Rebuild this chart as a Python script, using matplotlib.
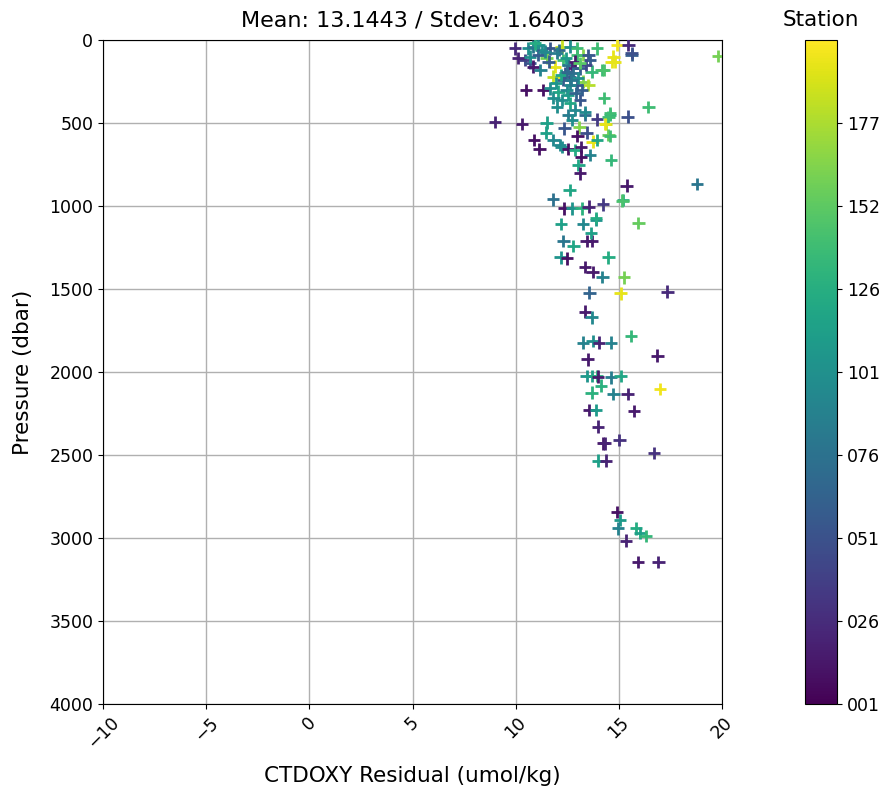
import matplotlib
matplotlib.use("Agg")
import matplotlib.pyplot as plt
import numpy as np

# Residual (umol/kg), pressure (dbar), station number
residual = [
    # deep
    14.92, 15.06, 14.95, 15.82, 16.03, 16.30, 15.35, 15.92, 16.92,
    13.56, 13.90, 15.74, 13.98, 15.03, 14.22, 14.33, 16.71, 13.98, 14.38,
    13.44, 13.68, 13.93, 14.00, 14.62, 15.09, 14.14, 17.00, 13.68, 14.74, 15.43,
    13.49, 16.87, 13.25, 13.73, 14.04, 14.62, 15.59, 13.36, 13.68,
    13.57, 15.09, 17.35, 14.20, 15.25, 13.36, 13.73,
    12.18, 12.50, 14.49, 12.31, 12.80, 13.44, 13.68, 13.65,
    12.20, 13.25, 13.88, 15.95, 13.90,
    12.36, 12.72, 13.20, 13.53, 14.22, 15.19, 11.80, 12.61, 15.38, 18.78,
    # mid
    9.00, 10.32, 11.50, 11.47, 12.36, 12.56, 13.36, 12.72, 13.09, 13.93,
    14.38, 14.57, 15.43, 12.99, 13.44, 13.73, 13.93, 14.49, 10.90, 11.15,
    11.83, 12.15, 12.23, 12.56, 12.88, 13.17, 13.61, 13.17, 14.62, 13.04,
    13.12, 14.49, 14.33, 14.57, 16.43, 15.17,
    # upper
    9.97, 10.46, 10.13, 10.70, 10.86, 10.62, 10.86, 11.10, 11.26, 10.70,
    11.10, 11.50, 11.67, 10.94, 12.23, 12.64, 12.96, 13.28, 12.96, 13.52,
    13.93, 13.61, 14.90, 15.46, 14.74, 14.82, 15.62, 11.91, 11.83, 12.31,
    12.56, 12.72, 12.88, 12.39, 12.64, 13.12, 13.68, 14.17, 13.28, 13.52,
    12.96, 12.64, 13.20, 10.50, 11.34, 11.67, 12.07, 12.47, 11.83, 12.23,
    12.64, 13.12, 14.28, 11.99, 12.88, 13.36, 14.57, 19.83, 15.62, 14.65,
    14.26, 11.40, 12.10, 12.45, 12.00, 11.60, 12.80, 13.00, 12.30, 11.20,
    12.55, 12.90, 13.40, 11.95, 12.70, 12.20, 13.10, 12.50,
]
pressure = [
    2843, 2892, 2942, 2942, 2971, 2988, 3016, 3143, 3143,
    2229, 2229, 2235, 2329, 2410, 2430, 2430, 2488, 2534, 2534,
    2024, 2024, 2024, 2028, 2032, 2024, 2082, 2102, 2124, 2134, 2134,
    1924, 1901, 1823, 1813, 1823, 1823, 1783, 1636, 1671,
    1522, 1526, 1516, 1426, 1430, 1366, 1396,
    1309, 1315, 1309, 1211, 1241, 1211, 1211, 1161,
    1108, 1108, 1084, 1104, 1074,
    1014, 1014, 1014, 1004, 990, 964, 960, 904, 877, 867,
    494, 506, 498, 558, 532, 452, 452, 482, 526, 478,
    506, 452, 462, 578, 558, 612, 602, 572, 602, 658,
    602, 632, 646, 658, 663, 646, 693, 703, 723, 753,
    803, 466, 506, 578, 402, 968,
    50, 120, 110, 140, 160, 50, 40, 30, 60, 100,
    90, 110, 50, 20, 40, 40, 50, 90, 90, 90,
    50, 120, 30, 30, 100, 130, 90, 160, 221, 120,
    151, 171, 130, 201, 221, 171, 191, 181, 251, 271,
    271, 271, 301, 301, 301, 291, 311, 301, 351, 361,
    381, 361, 348, 402, 422, 432, 442, 96, 80, 131,
    181, 70, 60, 110, 80, 130, 200, 230, 240, 180,
    330, 320, 150, 260, 240, 210, 140, 190,
]
station = [
    10, 110, 90, 125, 115, 135, 20, 15, 20,
    15, 110, 15, 20, 30, 15, 20, 30, 115, 20,
    105, 115, 130, 15, 85, 120, 130, 198, 130, 90, 20,
    15, 15, 90, 100, 20, 90, 135, 15, 95,
    65, 195, 25, 90, 160, 15, 15,
    105, 10, 125, 80, 120, 15, 15, 115,
    115, 95, 105, 155, 125,
    10, 105, 130, 20, 35, 130, 75, 120, 15, 80,
    20, 15, 115, 115, 55, 85, 70, 100, 165, 35,
    185, 135, 50, 10, 50, 195, 120, 155, 10, 10,
    95, 95, 100, 10, 125, 15, 90, 10, 135, 120,
    15, 140, 195, 140, 140, 145,
    25, 40, 20, 55, 15, 100, 80, 105, 100, 100,
    60, 160, 55, 125, 185, 100, 140, 165, 140, 55,
    140, 60, 198, 25, 195, 195, 60, 195, 185, 140,
    80, 20, 15, 55, 55, 60, 135, 140, 165, 180,
    55, 95, 60, 10, 10, 100, 120, 95, 100, 100,
    120, 55, 140, 100, 95, 95, 140, 160, 50, 195,
    145, 95, 70, 110, 85, 60, 75, 100, 60, 90,
    110, 65, 45, 105, 80, 120, 150, 70,
]

title = "Mean: 13.1443 / Stdev: 1.6403"
xlabel = "CTDOXY Residual (umol/kg)"
ylabel = "Pressure (dbar)"
x_ticks = [-10, -5, 0, 5, 10, 15, 20]
y_ticks = [0, 500, 1000, 1500, 2000, 2500, 3000, 3500, 4000]
cbar_vmin, cbar_vmax = 1, 202.5
cbar_labels = ["001", "026", "051", "076", "101", "126", "152", "177"]

fig = plt.figure(figsize=(8.91, 7.91), dpi=100)
ax = fig.add_axes([103/891, 1-704/791, 619/891, 664/791])
cax = fig.add_axes([805/891, 1-704/791, 32/891, 664/791])

sc = ax.scatter(residual, pressure, c=station, cmap="viridis",
                vmin=cbar_vmin, vmax=cbar_vmax, marker="+", s=80,
                linewidths=2, zorder=3)
ax.set_xlim(-10, 20)
ax.set_ylim(4000, 0)
ax.set_xticks(x_ticks)
ax.set_yticks(y_ticks)
ax.grid(True, color="#b0b0b0", linewidth=1)
ax.set_axisbelow(True)
ax.tick_params(axis="both", labelsize=12.5)
plt.setp(ax.get_xticklabels(), rotation=45)
ax.set_xlabel(xlabel, fontsize=15.5, labelpad=10)
ax.set_ylabel(ylabel, fontsize=15.5, labelpad=12)
ax.set_title(title, fontsize=16, pad=10)

cbar = fig.colorbar(sc, cax=cax)
cticks = np.linspace(cbar_vmin, cbar_vmax, len(cbar_labels) + 1)[:-1]
cbar.set_ticks(cticks)
cbar.set_ticklabels(cbar_labels)
cbar.ax.tick_params(labelsize=12.5)
cbar.ax.set_title("Station", fontsize=15.5, pad=10)

fig.savefig("out.png", dpi=100)
